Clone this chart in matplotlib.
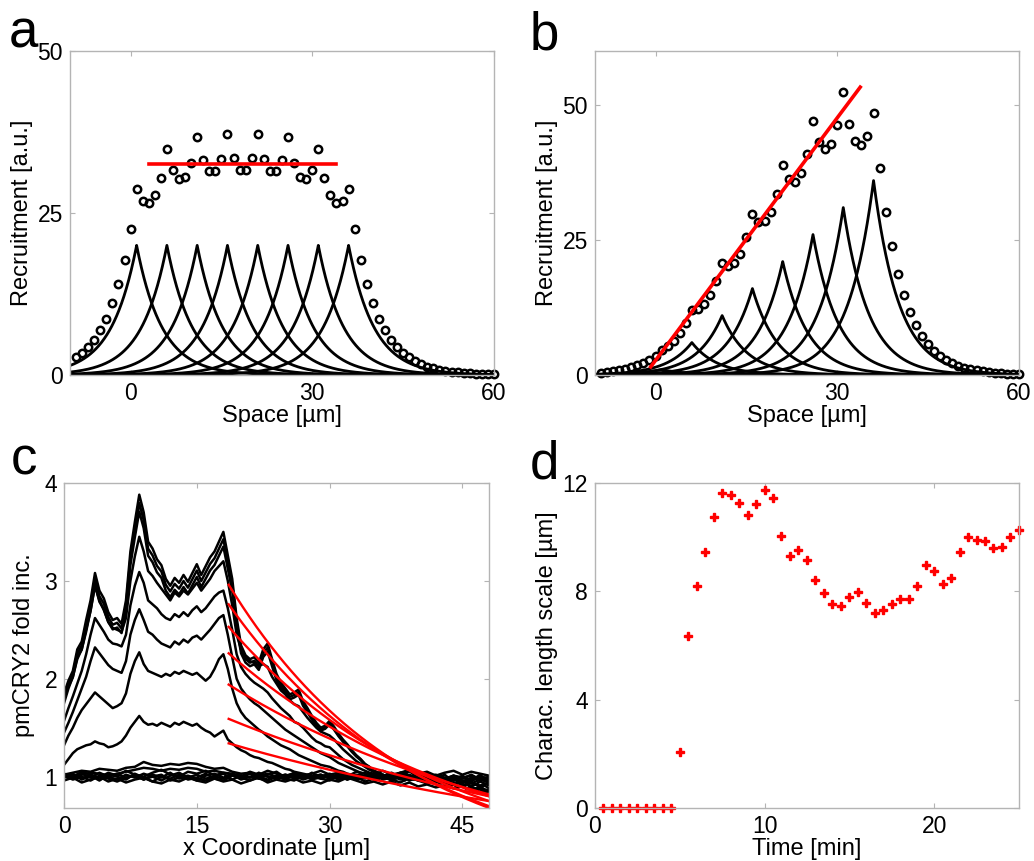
import numpy as np
import matplotlib
matplotlib.use('Agg')
import matplotlib.pyplot as plt

plt.rcParams['font.family'] = ['Liberation Sans', 'DejaVu Sans']

# ---------- panels a / b : single-site recruitment kernels and their sum ----------
peak_pos = [1, 6, 11, 16, 21, 26, 31, 36]
a_peak_height = [20, 20, 20, 20, 20, 20, 20, 20]
b_peak_height = [1, 6, 11, 16, 21, 26, 31, 36]
decay_len = 4.2  # um

dot_x = list(range(-9, 61))
a_dots = [2.7, 3.4, 4.3, 5.4, 6.9, 8.7, 11.1, 14.1, 17.8, 22.6,
          28.7, 26.8, 26.5, 27.7, 30.4, 34.8, 31.6, 30.3, 30.6, 32.7,
          36.7, 33.1, 31.4, 31.5, 33.4, 37.2, 33.5, 31.7, 31.7, 33.5,
          37.2, 33.4, 31.5, 31.4, 33.1, 36.7, 32.7, 30.6, 30.3, 31.6,
          34.8, 30.4, 27.7, 26.5, 26.8, 28.7, 22.6, 17.8, 14.1, 11.1,
          8.7, 6.9, 5.4, 4.3, 3.4, 2.7, 2.1, 1.7, 1.3, 1.0,
          0.8, 0.6, 0.5, 0.4, 0.3, 0.25, 0.2, 0.15, 0.12, 0.1]
b_dots = [0.42, 0.54, 0.68, 0.86, 1.1, 1.39, 1.76, 2.24, 2.84, 3.6,
          4.57, 5.32, 6.38, 7.79, 9.64, 12.05, 12.26, 13.18, 14.83, 17.33,
          20.82, 20.2, 20.75, 22.46, 25.46, 29.9, 28.35, 28.44, 30.13, 33.54,
          38.84, 36.28, 35.8, 37.33, 40.99, 46.98, 43.16, 41.82, 42.83, 46.27,
          52.35, 46.54, 43.36, 42.65, 44.34, 48.59, 38.29, 30.17, 23.81, 18.76,
          14.77, 11.66, 9.18, 7.24, 5.69, 4.49, 3.54, 2.79, 2.2, 1.73,
          1.37, 1.08, 0.85, 0.67, 0.53, 0.42, 0.33, 0.26, 0.2, 0.16]
a_fit_x = [3.1, 34.0]
a_fit_y = [32.5, 32.5]
b_fit_x = [-0.8, 33.8]
b_fit_y = [1.5, 53.3]

# ---------- panel c : pmCRY2 profiles (0.5 um sampling) ----------
c_top = [1.85, 1.98, 2.08, 2.30, 2.38, 2.60, 2.80, 3.08, 2.90, 2.82,
         2.68, 2.60, 2.62, 2.56, 2.80, 3.30, 3.60, 3.88, 3.70, 3.40,
         3.33, 3.22, 3.16, 3.02, 2.95, 3.03, 2.98, 3.06, 2.99, 3.08,
         3.17, 3.06, 3.15, 3.24, 3.30, 3.40, 3.50, 3.26, 3.02, 2.62,
         2.34, 2.24, 2.20, 2.22, 2.16, 2.30, 2.36, 2.20, 2.05, 1.96,
         1.90, 1.84, 1.86, 1.89, 1.77, 1.70, 1.62, 1.55, 1.50, 1.52,
         1.57, 1.51, 1.44, 1.38, 1.33, 1.27, 1.22, 1.18, 1.13, 1.10,
         1.06, 1.04, 1.01, 0.99, 1.00, 1.02, 1.04, 1.03, 1.06, 1.03,
         0.99, 0.97, 0.98, 0.95, 0.96, 0.93, 0.94, 0.91, 0.92, 0.89,
         0.91, 0.87, 0.89, 0.86, 0.87, 0.84, 0.85]
top_scale = [1.0, 0.97, 0.94]

c_a = [1.75, 1.90, 2.02, 2.20, 2.30, 2.48, 2.70, 2.95, 2.80, 2.70,
       2.58, 2.52, 2.50, 2.48, 2.62, 3.00, 3.25, 3.45, 3.30, 3.10,
       3.05, 2.98, 2.92, 2.86, 2.80, 2.88, 2.84, 2.90, 2.86, 2.92,
       2.98, 2.90, 2.96, 3.02, 3.10, 3.15, 3.20, 3.00, 2.75, 2.45,
       2.30, 2.22, 2.18, 2.16, 2.13, 2.15, 2.12, 2.02, 1.95, 1.88,
       1.84, 1.78, 1.74, 1.72, 1.66, 1.60, 1.55, 1.50, 1.46, 1.44,
       1.42, 1.38, 1.33, 1.28, 1.24, 1.20, 1.16, 1.13, 1.10, 1.07,
       1.05, 1.03, 1.02, 1.00, 0.98, 1.00, 0.99, 1.01, 0.98, 0.97,
       0.99, 0.96, 0.95, 0.97, 0.94, 0.95, 0.93, 0.92, 0.94, 0.91,
       0.90, 0.92, 0.89, 0.88, 0.90, 0.87, 0.86]
c_b = [1.57, 1.70, 1.82, 1.95, 2.08, 2.25, 2.45, 2.62, 2.55, 2.48,
       2.40, 2.36, 2.35, 2.33, 2.45, 2.75, 2.95, 3.09, 2.98, 2.80,
       2.76, 2.72, 2.66, 2.62, 2.60, 2.66, 2.63, 2.68, 2.64, 2.70,
       2.74, 2.68, 2.72, 2.78, 2.84, 2.88, 2.90, 2.72, 2.50, 2.25,
       2.12, 2.05, 2.00, 1.96, 1.93, 1.90, 1.86, 1.80, 1.75, 1.70,
       1.66, 1.62, 1.56, 1.54, 1.50, 1.45, 1.40, 1.36, 1.34, 1.31,
       1.30, 1.26, 1.22, 1.18, 1.15, 1.12, 1.10, 1.08, 1.06, 1.04,
       1.03, 1.01, 1.00, 0.98, 1.00, 1.02, 0.99, 0.97, 1.00, 0.98,
       0.96, 0.98, 0.95, 0.97, 0.94, 0.96, 0.93, 0.95, 0.92, 0.94,
       0.91, 0.93, 0.90, 0.92, 0.89, 0.91, 0.88]
c_c = [1.45, 1.55, 1.66, 1.78, 1.90, 2.02, 2.18, 2.32, 2.26, 2.20,
       2.14, 2.10, 2.08, 2.06, 2.18, 2.45, 2.60, 2.71, 2.60, 2.48,
       2.45, 2.40, 2.36, 2.34, 2.32, 2.38, 2.35, 2.40, 2.37, 2.42,
       2.44, 2.40, 2.45, 2.50, 2.56, 2.62, 2.65, 2.45, 2.22, 2.00,
       1.90, 1.84, 1.79, 1.75, 1.72, 1.68, 1.64, 1.60, 1.56, 1.52,
       1.48, 1.45, 1.42, 1.39, 1.36, 1.33, 1.30, 1.27, 1.24, 1.22,
       1.20, 1.17, 1.14, 1.12, 1.10, 1.08, 1.06, 1.04, 1.03, 1.02,
       1.00, 1.02, 0.99, 1.01, 0.98, 1.00, 1.02, 0.99, 0.97, 1.00,
       0.98, 0.96, 0.99, 0.97, 0.95, 0.98, 0.96, 0.94, 0.97, 0.95,
       0.93, 0.96, 0.94, 0.92, 0.95, 0.93, 0.91]
c_d = [1.32, 1.42, 1.50, 1.60, 1.68, 1.74, 1.80, 1.86, 1.82, 1.78,
       1.74, 1.70, 1.72, 1.75, 1.85, 2.05, 2.18, 2.27, 2.15, 2.08,
       2.06, 2.04, 2.02, 2.05, 2.03, 2.07, 2.05, 2.08, 2.06, 2.04,
       2.06, 2.02, 1.98, 2.02, 2.10, 2.20, 2.25, 2.10, 1.90, 1.75,
       1.66, 1.60, 1.56, 1.52, 1.48, 1.45, 1.41, 1.38, 1.35, 1.32,
       1.30, 1.28, 1.25, 1.22, 1.20, 1.18, 1.16, 1.14, 1.12, 1.11,
       1.10, 1.08, 1.06, 1.05, 1.03, 1.02, 1.00, 1.02, 0.99, 1.01,
       0.98, 1.00, 1.02, 0.99, 1.01, 0.98, 1.00, 1.03, 1.00, 0.98,
       1.01, 0.99, 0.97, 1.00, 0.98, 1.01, 0.99, 0.96, 0.99, 0.97,
       1.00, 0.98, 0.95, 0.98, 0.96, 0.99, 0.97]
c_e = [1.12, 1.18, 1.24, 1.28, 1.30, 1.32, 1.33, 1.36, 1.34, 1.33,
       1.30, 1.31, 1.33, 1.36, 1.42, 1.50, 1.56, 1.62, 1.56, 1.53,
       1.54, 1.52, 1.55, 1.53, 1.51, 1.55, 1.53, 1.56, 1.54, 1.52,
       1.54, 1.50, 1.47, 1.45, 1.41, 1.44, 1.47, 1.38, 1.34, 1.30,
       1.27, 1.25, 1.22, 1.20, 1.19, 1.17, 1.15, 1.14, 1.12, 1.10,
       1.08, 1.07, 1.05, 1.04, 1.03, 1.02, 1.00, 1.02, 0.99, 1.01,
       0.98, 1.00, 1.02, 0.99, 0.97, 1.00, 1.01, 0.98, 1.00, 1.02,
       0.99, 0.97, 1.00, 1.02, 0.99, 1.01, 0.98, 0.96, 0.99, 1.01,
       0.98, 1.00, 1.02, 0.99, 0.97, 1.00, 1.02, 0.98, 0.96, 0.99,
       1.01, 0.98, 0.96, 0.99, 1.02, 0.98, 0.95]

# near-baseline profiles (1 um sampling)
c_low = [
    [1.02, 1.04, 1.06, 1.05, 1.08, 1.07, 1.06, 1.09, 1.10, 1.15,
     1.12, 1.11, 1.13, 1.12, 1.14, 1.13, 1.10, 1.08, 1.09, 1.05,
     1.03, 1.04, 1.01, 1.03, 1.00, 1.02, 0.99, 1.01, 1.00, 0.98,
     1.01, 0.99, 1.02, 0.98, 1.00, 1.03, 0.99, 1.01, 0.97, 1.00,
     1.02, 0.98, 1.00, 0.97, 1.01, 0.99, 0.96, 1.00, 0.98],
    [1.00, 0.98, 1.02, 1.04, 1.03, 1.01, 1.03, 1.05, 1.07, 1.09,
     1.08, 1.06, 1.08, 1.07, 1.09, 1.08, 1.05, 1.06, 1.04, 1.03,
     1.01, 0.99, 1.02, 1.00, 0.98, 1.01, 1.03, 0.99, 1.00, 1.02,
     0.98, 1.00, 1.01, 0.97, 0.99, 1.02, 1.00, 0.98, 1.01, 0.99,
     0.97, 1.00, 1.02, 0.98, 0.96, 0.99, 1.01, 0.97, 0.99],
    [1.02, 0.98, 1.03, 0.99, 1.04, 1.00, 0.97, 1.02, 0.99, 1.03,
     1.00, 0.96, 1.01, 1.04, 0.99, 1.02, 0.98, 1.00, 1.03, 0.97,
     1.01, 0.99, 1.04, 1.00, 0.98, 1.02, 0.99, 1.01, 0.97, 1.00,
     1.03, 0.99, 1.02, 0.98, 1.01, 0.97, 1.00, 1.04, 0.99, 1.02,
     0.98, 1.03, 0.99, 0.96, 1.01, 0.98, 1.02, 0.97, 1.00],
    [0.99, 1.03, 0.97, 1.01, 0.96, 1.02, 1.00, 0.97, 1.03, 0.99,
     0.95, 1.00, 0.98, 1.02, 0.97, 0.99, 1.03, 0.98, 0.96, 1.01,
     0.99, 1.03, 0.98, 0.96, 1.00, 0.97, 1.02, 0.99, 1.04, 0.98,
     0.96, 1.01, 0.97, 1.00, 0.95, 0.98, 1.02, 0.97, 0.94, 0.99,
     0.96, 0.93, 0.97, 0.95, 0.92, 0.96, 0.93, 0.91, 0.94],
    [1.03, 1.00, 1.05, 1.02, 0.99, 1.04, 1.01, 1.06, 1.02, 1.00,
     1.04, 1.07, 1.02, 1.00, 1.05, 1.03, 1.06, 1.01, 1.04, 1.02,
     1.00, 1.05, 1.02, 1.06, 1.03, 1.00, 1.04, 1.01, 1.03, 1.06,
     1.02, 1.04, 1.00, 1.05, 1.03, 1.01, 1.06, 1.02, 1.04, 1.07,
     1.03, 1.05, 1.01, 1.04, 1.06, 1.02, 1.05, 1.03, 1.01],
    [0.96, 0.99, 0.94, 0.97, 1.00, 0.95, 0.98, 0.94, 0.97, 0.99,
     0.95, 0.93, 0.97, 0.95, 0.99, 0.96, 0.94, 0.98, 0.95, 0.97,
     0.93, 0.96, 0.99, 0.94, 0.97, 0.95, 0.98, 0.94, 0.96, 0.93,
     0.97, 0.95, 0.99, 0.96, 0.93, 0.95, 0.92, 0.95, 0.91, 0.94,
     0.90, 0.92, 0.89, 0.91, 0.88, 0.90, 0.86, 0.88, 0.85],
    [1.00, 1.01, 0.98, 1.02, 0.97, 1.00, 1.03, 0.99, 1.01, 0.97,
     1.02, 0.99, 1.04, 0.98, 1.00, 0.96, 1.01, 1.03, 0.99, 1.02,
     0.97, 1.00, 0.98, 1.02, 1.05, 0.99, 1.01, 0.97, 1.00, 1.02,
     0.98, 1.03, 0.99, 1.01, 1.04, 0.98, 1.00, 0.96, 1.01, 0.98,
     1.02, 0.97, 1.00, 0.98, 1.01, 0.95, 0.99, 0.96, 0.98],
    [1.01, 0.97, 1.00, 0.96, 1.01, 0.98, 0.95, 0.99, 1.02, 0.97,
     1.00, 1.02, 0.96, 0.99, 1.01, 0.98, 0.96, 1.00, 0.98, 1.02,
     0.99, 0.96, 1.00, 0.97, 1.01, 0.98, 0.96, 1.02, 0.98, 0.99,
     1.01, 0.97, 0.99, 1.02, 0.98, 1.03, 0.97, 0.99, 1.01, 0.96,
     0.99, 1.02, 0.97, 0.94, 0.98, 0.96, 0.93, 0.97, 0.94],
]

# exponential fits: start value at x0 and decay length
fit_x0 = 18.6
fit_start = [2.96, 2.76, 2.53, 2.26, 1.94, 1.59, 1.34]
fit_len = [20.0, 21.4, 24.2, 28.3, 34.1, 42.8, 50.7]

# ---------- panel d : characteristic length scale over time ----------
d_time = [0.5, 1.0, 1.5, 2.0, 2.5, 3.0, 3.5, 4.0, 4.5, 5.0,
          5.5, 6.0, 6.5, 7.0, 7.5, 8.0, 8.5, 9.0, 9.5, 10.0,
          10.5, 11.0, 11.5, 12.0, 12.5, 13.0, 13.5, 14.0, 14.5, 15.0,
          15.5, 16.0, 16.5, 17.0, 17.5, 18.0, 18.5, 19.0, 19.5, 20.0,
          20.5, 21.0, 21.5, 22.0, 22.5, 23.0, 23.5, 24.0, 24.5, 25.0]
d_len = [0, 0, 0, 0, 0, 0, 0, 0, 0, 2.05,
         6.34, 8.18, 9.44, 10.73, 11.63, 11.57, 11.26, 10.81, 11.23, 11.73,
         11.46, 10.04, 9.32, 9.51, 9.14, 8.42, 7.93, 7.52, 7.44, 7.80,
         7.99, 7.58, 7.21, 7.30, 7.54, 7.72, 7.70, 8.21, 8.97, 8.74,
         8.26, 8.49, 9.46, 9.99, 9.88, 9.85, 9.58, 9.64, 9.99, 10.28]

GREY = '#b4b4b4'
TICK_FS = 16.5
LABEL_FS = 17


def style(ax):
    for s in ax.spines.values():
        s.set_color(GREY)
        s.set_linewidth(1.0)
    ax.tick_params(direction='in', length=3.5, width=0.8, color=GREY,
                   labelsize=TICK_FS, pad=5, top=True, right=True,
                   labelcolor='black')


fig = plt.figure(figsize=(10.34, 8.61), dpi=100)
ax_a = fig.add_axes([0.0677, 0.5645, 0.410, 0.3763])
ax_b = fig.add_axes([0.5754, 0.5645, 0.410, 0.3763])
ax_c = fig.add_axes([0.0619, 0.0616, 0.411, 0.3775])
ax_d = fig.add_axes([0.5754, 0.0616, 0.410, 0.3775])

xs = np.linspace(-10, 60, 1401)

# a
for pos, h in zip(peak_pos, a_peak_height):
    ax_a.plot(xs, h * np.exp(-np.abs(xs - pos) / decay_len), color='black', lw=2.0)
ax_a.plot(dot_x, a_dots, 'o', ms=5.3, mfc='none', mec='black', mew=1.8, clip_on=False)
ax_a.plot(a_fit_x, a_fit_y, color='red', lw=2.6)
ax_a.set_xlim(-10, 60)
ax_a.set_ylim(0, 50)
ax_a.set_xticks([0, 30, 60])
ax_a.set_yticks([0, 25, 50])
ax_a.set_xlabel('Space [µm]', fontsize=LABEL_FS, labelpad=0)
ax_a.set_ylabel('Recruitment [a.u.]', fontsize=LABEL_FS, labelpad=3)
style(ax_a)

# b
for pos, h in zip(peak_pos, b_peak_height):
    ax_b.plot(xs, h * np.exp(-np.abs(xs - pos) / decay_len), color='black', lw=2.0)
ax_b.plot(dot_x, b_dots, 'o', ms=5.3, mfc='none', mec='black', mew=1.8, clip_on=False)
ax_b.plot(b_fit_x, b_fit_y, color='red', lw=2.6)
ax_b.set_xlim(-10, 60)
ax_b.set_ylim(0, 60)
ax_b.set_xticks([0, 30, 60])
ax_b.set_yticks([0, 25, 50])
ax_b.set_xlabel('Space [µm]', fontsize=LABEL_FS, labelpad=0)
ax_b.set_ylabel('Recruitment [a.u.]', fontsize=LABEL_FS, labelpad=3)
style(ax_b)

# c
for tr in c_low:
    ax_c.plot(np.arange(len(tr)) * 1.0, tr, color='black', lw=1.8)
for tr in [c_e, c_d, c_c, c_b, c_a]:
    ax_c.plot(np.arange(len(tr)) * 0.5, tr, color='black', lw=1.8)
top = np.array(c_top)
for s in top_scale:
    ax_c.plot(np.arange(len(top)) * 0.5, 1 + s * (top - 1), color='black', lw=1.8)
xf = np.linspace(fit_x0, 48, 300)
for y0, L in zip(fit_start, fit_len):
    ax_c.plot(xf, y0 * np.exp(-(xf - fit_x0) / L), color='red', lw=1.7)
ax_c.set_xlim(0, 48)
ax_c.set_ylim(0.68, 4)
ax_c.set_xticks([0, 15, 30, 45])
ax_c.set_yticks([1, 2, 3, 4])
ax_c.set_xlabel('x Coordinate [µm]', fontsize=LABEL_FS, labelpad=0)
ax_c.set_ylabel('pmCRY2 fold inc.', fontsize=LABEL_FS, labelpad=7)
style(ax_c)

# d
ax_d.plot(d_time, d_len, 'P', color='red', ms=5.8, clip_on=False)
ax_d.set_xlim(0, 25)
ax_d.set_ylim(0, 12)
ax_d.set_xticks([0, 10, 20])
ax_d.set_yticks([0, 4, 8, 12])
ax_d.set_xlabel('Time [min]', fontsize=LABEL_FS, labelpad=0)
ax_d.set_ylabel('Charac. length scale [µm]', fontsize=LABEL_FS, labelpad=3)
style(ax_d)

# panel letters
for letter, x, y in [('a', 0.008, 0.945), ('b', 0.512, 0.942),
                     ('c', 0.010, 0.449), ('d', 0.512, 0.444)]:
    fig.text(x, y, letter, fontsize=38, va='baseline', ha='left')

fig.savefig('out.png', dpi=100)
